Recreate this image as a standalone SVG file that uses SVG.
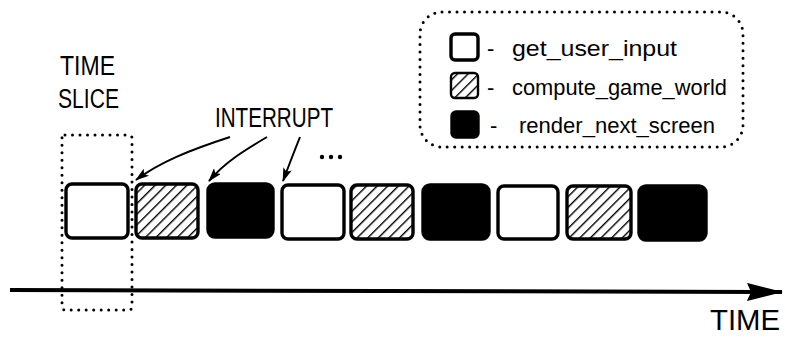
<svg xmlns="http://www.w3.org/2000/svg" width="785" height="338" viewBox="0 0 785 338">
<style>
.box{stroke:#000;stroke-width:3.4;}
.white{fill:#fff;}
.black{fill:#000;}
.hatch{fill:url(#hatch);}
.dots{fill:none;stroke:#000;stroke-width:3;stroke-linecap:round;stroke-dasharray:0 7.5;}
.cap{font-family:"Liberation Sans",Arial,sans-serif;font-size:27px;fill:#000;}
.lab{font-family:"Liberation Sans",Arial,sans-serif;font-size:22px;fill:#000;}
.arr{fill:none;stroke:#000;stroke-width:2;}
</style>
<defs>
<pattern id="hatch" patternUnits="userSpaceOnUse" width="7.5" height="7.5" patternTransform="rotate(45)">
<rect width="7.5" height="7.5" fill="#fff"/>
<line x1="0" y1="0" x2="0" y2="7.5" stroke="#000" stroke-width="2.8"/>
</pattern>
<marker id="ah" viewBox="0 0 14 9" refX="13" refY="4.5" markerWidth="14" markerHeight="9" markerUnits="userSpaceOnUse" orient="auto">
<path d="M0,0 L14,4.5 L0,9 L3,4.5 Z" fill="#000"/>
</marker>
<marker id="ahBig" viewBox="0 0 36 18" refX="35" refY="9" markerWidth="36" markerHeight="18" markerUnits="userSpaceOnUse" orient="auto">
<path d="M0,0 L36,9 L0,18 L4,9 Z" fill="#000"/>
</marker>
</defs>
<rect width="785" height="338" fill="#fff"/>

<g id="time-slice-label">
<text class="cap" x="60" y="75" textLength="55" lengthAdjust="spacingAndGlyphs">TIME</text>
<text class="cap" x="58" y="108" textLength="61" lengthAdjust="spacingAndGlyphs">SLICE</text>
</g>
<g id="time-slice">
<rect class="dots" x="62" y="135" width="70" height="175" rx="3"/>
</g>

<g id="interrupt-label">
<text class="cap" x="215" y="127" textLength="118" lengthAdjust="spacingAndGlyphs">INTERRUPT</text>
</g>
<g id="ellipsis">
<circle cx="322" cy="157" r="2.2"/><circle cx="331" cy="157" r="2.2"/><circle cx="340" cy="157" r="2.2"/>
</g>

<g id="slice1"><rect class="box white" x="66" y="184" width="62" height="54" rx="6"/></g>
<g id="slice2"><rect class="box hatch" x="136" y="184" width="62" height="54" rx="6"/></g>
<g id="slice3"><rect class="box black" x="208" y="184" width="65" height="53" rx="7"/></g>
<g id="slice4"><rect class="box white" x="282" y="185" width="62" height="54" rx="6"/></g>
<g id="slice5"><rect class="box hatch" x="351" y="185" width="62" height="54" rx="6"/></g>
<g id="slice6"><rect class="box black" x="423" y="185" width="66" height="54" rx="7"/></g>
<g id="slice7"><rect class="box white" x="498" y="186" width="60" height="53" rx="6"/></g>
<g id="slice8"><rect class="box hatch" x="567" y="186" width="64" height="53" rx="6"/></g>
<g id="slice9"><rect class="box black" x="639" y="186" width="67" height="54" rx="7"/></g>

<g id="legend">
<rect class="dots" x="420" y="12" width="323" height="135" rx="22"/>
<rect class="box white" x="451" y="34" width="27" height="26" rx="4"/>
<rect class="box hatch" x="451" y="73" width="27" height="25" rx="4" style="stroke-width:2.4"/>
<rect class="box black" x="452" y="112" width="26" height="25" rx="4"/>
<text class="lab" x="487" y="56">-</text>
<text class="lab" x="512" y="56" textLength="165" lengthAdjust="spacingAndGlyphs">get_user_input</text>
<text class="lab" x="487" y="95">-</text>
<text class="lab" x="512" y="95" textLength="215" lengthAdjust="spacingAndGlyphs">compute_game_world</text>
<text class="lab" x="490" y="133">-</text>
<text class="lab" x="519" y="133" textLength="196" lengthAdjust="spacingAndGlyphs">render_next_screen</text>
</g>

<g id="time-label">
<text class="cap" x="710" y="330" style="font-size:29px" textLength="70" lengthAdjust="spacingAndGlyphs">TIME</text>
</g>

<g id="connectors">
<path class="arr" d="M230,137 C190,150 160,162 136,180" marker-end="url(#ah)"/>
<path class="arr" d="M267,137 C245,150 225,162 209,181" marker-end="url(#ah)"/>
<path class="arr" d="M300,137 C294,152 289,165 283,181" marker-end="url(#ah)"/>
<path d="M10,290 L782,292" fill="none" stroke="#000" stroke-width="4" marker-end="url(#ahBig)"/>
</g>
</svg>
